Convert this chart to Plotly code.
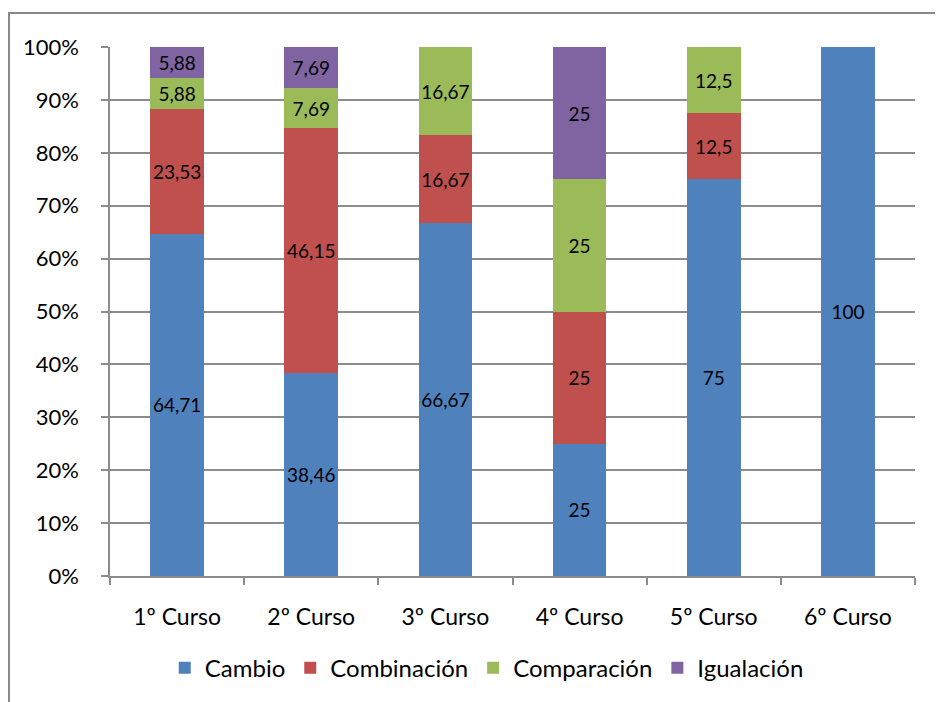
import plotly.graph_objects as go

# ── Data ─────────────────────────────────────────────────────────────────────
cursos = ["1º Curso", "2º Curso", "3º Curso", "4º Curso", "5º Curso", "6º Curso"]
cambio = [64.71, 38.46, 66.67, 25, 75, 100]
combinacion = [23.53, 46.15, 16.67, 25, 12.5, 0]
comparacion = [5.88, 7.69, 16.67, 25, 12.5, 0]
igualacion = [5.88, 7.69, 0, 25, 0, 0]

series = [
    ("Cambio", cambio, "#4F81BD"),
    ("Combinación", combinacion, "#C0504D"),
    ("Comparación", comparacion, "#9BBB59"),
    ("Igualación", igualacion, "#8064A2"),
]

FONT = "Lato, Carlito, 'Open Sans', sans-serif"
GRID = "#8C8C8C"


def fmt(v):
    # Spanish decimal comma, hide empty segments
    return f"{v:g}".replace(".", ",") if v else ""


fig = go.Figure()
for name, vals, color in series:
    fig.add_trace(go.Bar(
        x=cursos, y=vals, name=name,
        marker=dict(color=color, line=dict(width=0)),
        text=[fmt(v) for v in vals],
        textposition="inside", insidetextanchor="middle",
        textangle=0, constraintext="none",
        textfont=dict(family=FONT, size=19, color="black"),
        hoverinfo="skip",
    ))

# ── Layout ───────────────────────────────────────────────────────────────────
# page body adds an 8px margin, so the figure is sized/offset for that
fig.update_layout(
    barmode="stack",
    bargap=0.6,
    width=935, height=694,
    margin=dict(l=102, r=28, t=39, b=125),
    paper_bgcolor="white", plot_bgcolor="white",
    font=dict(family=FONT, size=22, color="black"),
    showlegend=True,
    legend=dict(orientation="h", x=0.468, xanchor="center",
                y=-0.172, yanchor="middle",
                font=dict(size=24), itemwidth=30,
                traceorder="normal", tracegroupgap=0),
    xaxis=dict(
        automargin=False,
        showline=True, linecolor=GRID, linewidth=1.5,
        ticks="outside", tickson="boundaries", ticklen=7,
        tickcolor=GRID, tickwidth=1.5,
        ticklabelstandoff=20,
        tickfont=dict(size=23),
        showgrid=False,
    ),
    yaxis=dict(
        automargin=False,
        range=[0, 100], dtick=10, ticksuffix="%",
        showline=True, linecolor=GRID, linewidth=1.5,
        ticks="outside", ticklen=7, tickcolor=GRID, tickwidth=1.5,
        ticklabelstandoff=18,
        tickfont=dict(size=22),
        showgrid=True, gridcolor=GRID, gridwidth=1.5,
        zeroline=False,
    ),
    shapes=[dict(type="rect", xref="paper", yref="paper",
                 x0=-0.1255, x1=1.2, y0=-0.4, y1=1.0642,
                 line=dict(color="#888888", width=2),
                 fillcolor="rgba(0,0,0,0)", layer="below")],
)

fig.write_html("out.html")
